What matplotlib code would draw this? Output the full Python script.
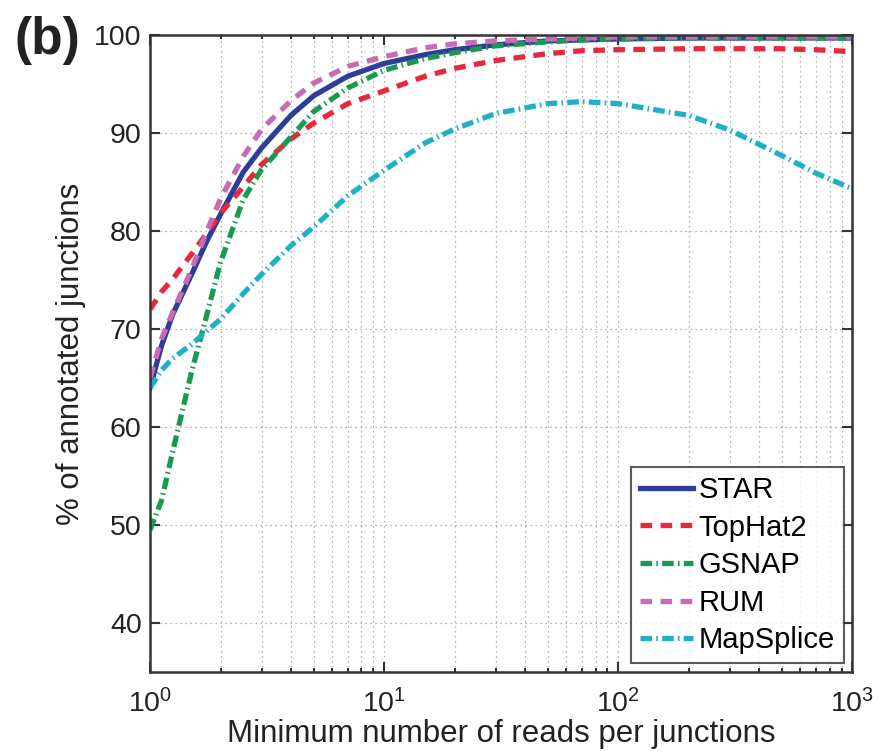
import matplotlib
matplotlib.use("Agg")
import matplotlib.pyplot as plt
from matplotlib.ticker import LogLocator, NullFormatter

plt.rcParams['font.family'] = ['Liberation Sans', 'DejaVu Sans']
plt.rcParams['mathtext.fontset'] = 'custom'
plt.rcParams['mathtext.rm'] = 'Liberation Sans'
plt.rcParams['mathtext.it'] = 'Liberation Sans:italic'
plt.rcParams['mathtext.bf'] = 'Liberation Sans:bold'

x = [1, 1.12, 1.25, 1.5, 1.75, 2, 2.5, 3, 4, 5, 7, 10, 15, 20, 30, 50, 70, 100, 200, 300, 500, 700, 1000]
star = [64.0, 68.3, 71.5, 75.5, 79.0, 81.7, 86.0, 88.5, 91.8, 93.8, 95.8, 97.1, 98.0, 98.5, 99.0, 99.4, 99.5, 99.6,
        99.7, 99.7, 99.7, 99.7, 99.7]
tophat2 = [72.0, 73.8, 75.1, 77.6, 79.8, 81.8, 84.5, 86.8, 89.4, 91.0, 93.0, 94.3, 95.8, 96.6, 97.4, 98.1, 98.4,
           98.5, 98.6, 98.6, 98.6, 98.5, 98.3]
gsnap = [49.5, 52.5, 57.5, 65.5, 71.5, 76.8, 83.2, 86.3, 89.6, 92.2, 94.6, 96.4, 97.6, 98.2, 98.9, 99.3, 99.5,
         99.6, 99.7, 99.7, 99.7, 99.7, 99.7]
rum = [65.0, 69.0, 71.7, 76.0, 80.0, 83.3, 87.6, 90.4, 93.3, 95.1, 96.8, 97.8, 98.7, 99.1, 99.4, 99.6, 99.7,
       99.8, 99.8, 99.8, 99.8, 99.8, 99.8]
mapsplice = [64.0, 65.8, 67.0, 68.4, 69.8, 71.0, 73.6, 75.6, 78.5, 80.4, 83.6, 86.2, 89.0, 90.4, 92.0, 93.0, 93.2,
             93.0, 91.8, 90.3, 87.7, 85.9, 84.3]

labels = ['STAR', 'TopHat2', 'GSNAP', 'RUM', 'MapSplice']
colors = ['#2c3e98', '#e8283c', '#1a9a50', '#c86bb5', '#1fb0c8']

fig = plt.figure(figsize=(8.8, 7.55), dpi=100)
ax = fig.add_axes([0.1705, 0.110, 0.798, 0.8436])

lw = 3.8
dash = (0, (2.2, 1.6))
dashdot = (0, (2.2, 0.8, 0.3, 0.8))
ax.plot(x, star, color=colors[0], lw=lw, linestyle='-', label=labels[0])
ax.plot(x, tophat2, color=colors[1], lw=lw, linestyle=dash, label=labels[1])
ax.plot(x, gsnap, color=colors[2], lw=lw, linestyle=dashdot, label=labels[2])
ax.plot(x, rum, color=colors[3], lw=lw, linestyle=dash, label=labels[3])
ax.plot(x, mapsplice, color=colors[4], lw=lw, linestyle=dashdot, label=labels[4])

ax.set_xscale('log')
ax.set_xlim(1, 1000)
ax.set_ylim(35, 100)
ax.set_yticks([40, 50, 60, 70, 80, 90, 100])
ax.xaxis.set_major_locator(LogLocator(base=10, numticks=10))
ax.xaxis.set_minor_locator(LogLocator(base=10, subs=range(2, 10), numticks=20))
ax.xaxis.set_minor_formatter(NullFormatter())

ax.grid(True, which='major', axis='both', linestyle=(0, (1, 3)), color='#999999', lw=0.9)
ax.grid(True, which='minor', axis='x', linestyle=(0, (1, 3)), color='#999999', lw=0.9)

ax.tick_params(axis='both', which='both', direction='in', top=True, right=True,
               labelsize=20.5, width=1.5, color='#333333', labelcolor='#222222')
ax.tick_params(which='major', length=7)
ax.tick_params(which='minor', length=3)
ax.tick_params(axis='x', pad=12)
ax.tick_params(axis='y', pad=6)
for s in ax.spines.values():
    s.set_linewidth(1.8)
    s.set_color('#333333')

ax.set_xlabel('Minimum number of reads per junctions', fontsize=22.5, labelpad=1, color='#222222')
ax.set_ylabel('% of annotated junctions', fontsize=22.5, labelpad=6, color='#222222')

leg = ax.legend(loc='lower right', fontsize=21, frameon=True, fancybox=False,
                edgecolor='#333333', handlelength=1.8, handletextpad=0.2,
                labelspacing=0.33, borderpad=0.3, borderaxespad=0.3)
leg.get_frame().set_linewidth(1.5)

fig.text(0.054, 0.947, '(b)', fontsize=37, fontweight='bold', ha='center', va='center', color='#222222')

fig.savefig('out.png', dpi=100)
